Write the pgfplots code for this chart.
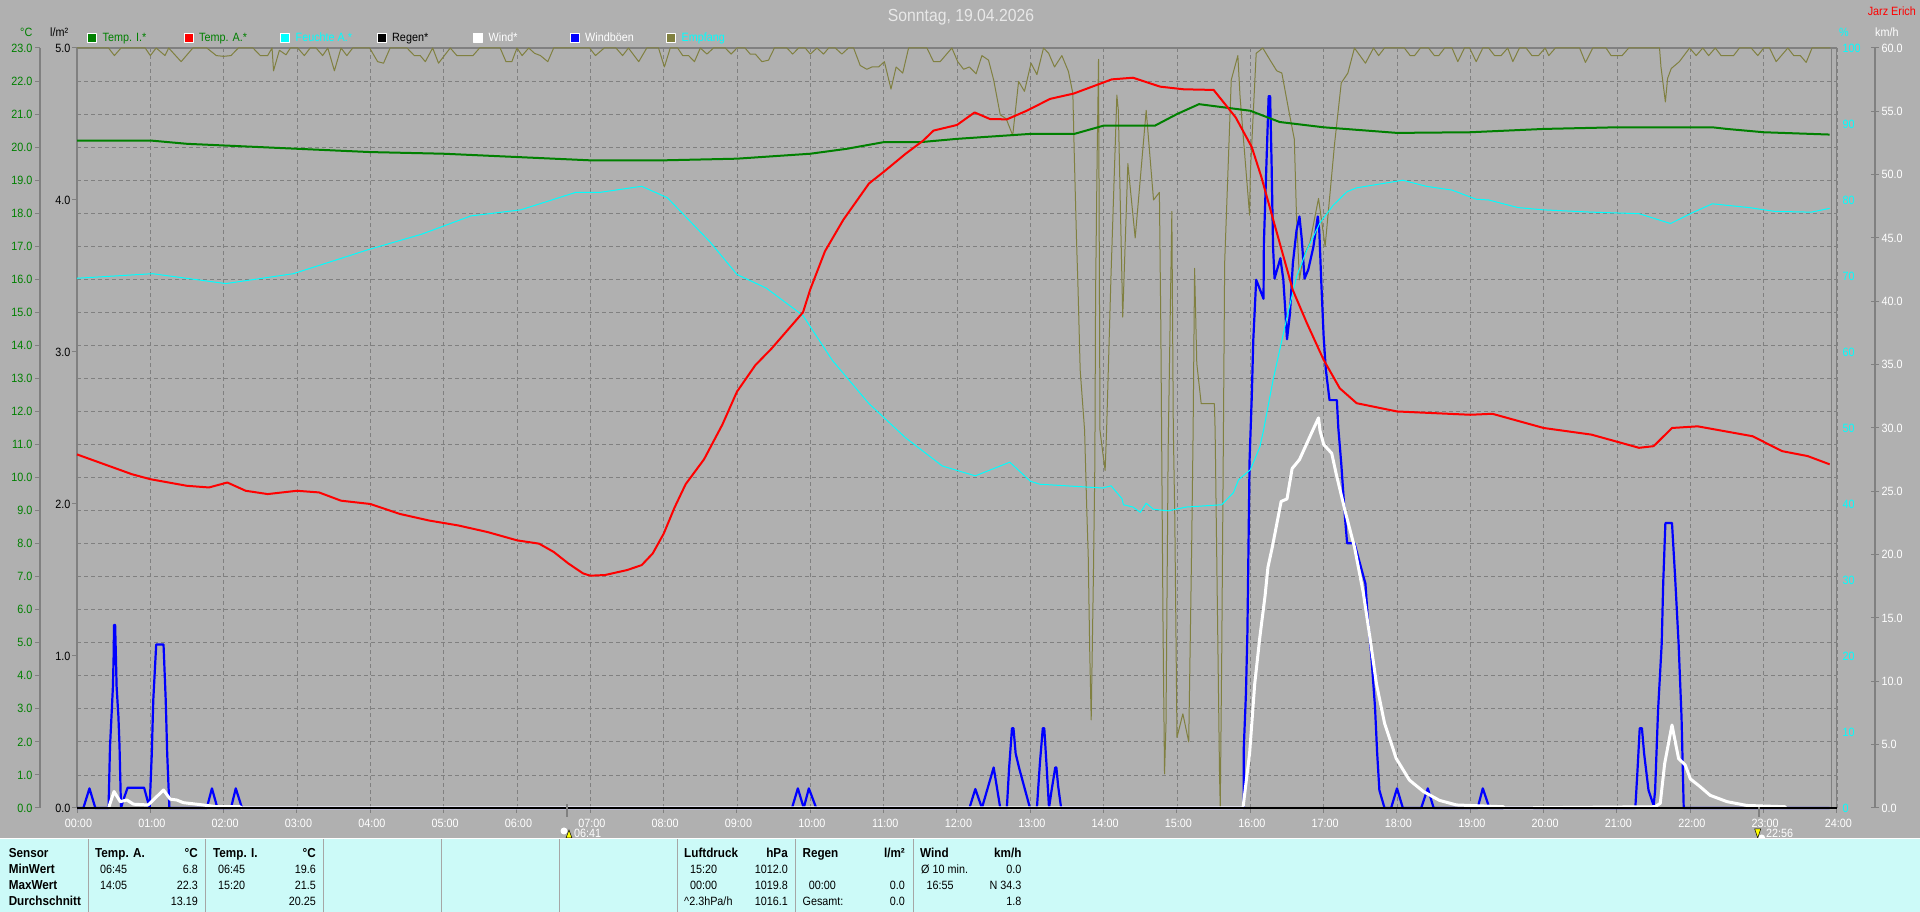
\documentclass[border=0pt]{standalone}
\usepackage{fontspec}
\setmainfont[FakeStretch=0.9]{Liberation Sans}
\usepackage{pgfplots}
\pgfplotsset{compat=1.18}

\definecolor{bggray}{HTML}{B0B0B0}
\definecolor{linegray}{HTML}{808080}
\definecolor{tgreen}{HTML}{008000}
\definecolor{tred}{RGB}{255,0,0}
\definecolor{tcyan}{RGB}{0,255,255}
\definecolor{tblue}{RGB}{0,0,255}
\definecolor{olive2}{HTML}{808040}
\definecolor{panel}{HTML}{CCFAF8}
\definecolor{titlec}{HTML}{E8E8E8}
\definecolor{tyellow}{RGB}{255,255,0}

\pgfplotsset{
  layer/.style={
    at={(77pt,104pt)}, anchor=south west,
    scale only axis, width=1760pt, height=760pt,
    xmin=0, xmax=24, clip=false,
    tick label style={font=\fontsize{12}{14}\selectfont},
    /pgf/number format/assume math mode=true,
    /pgf/number format/fixed,
    /pgf/number format/fixed zerofill,
    /pgf/number format/precision=1,
  },
  every axis plot/.append style={line join=round},
  sw/.style={legend image code/.code={
    \draw[draw=white,line width=1pt,fill=#1] (0pt,-4.5pt) rectangle (9pt,4.5pt);}},
}

% text helpers, x and y in pixels from the top left corner
\newcommand{\tl}[3]{\node[anchor=base west,inner sep=0pt,font=\fontsize{12}{14}\selectfont] at (#1,{912-#2}) {#3};}
\newcommand{\tr}[3]{\node[anchor=base east,inner sep=0pt,font=\fontsize{12}{14}\selectfont] at (#1,{912-#2}) {#3};}
\newcommand{\bh}{\fontsize{13}{14}\selectfont\bfseries}

\begin{document}
\begin{tikzpicture}[x=1pt,y=1pt]
\useasboundingbox (0,0) rectangle (1920,912);
\fill[bggray] (0,0) rectangle (1920,912);

% temperature scale, grid and hours
\begin{axis}[layer,
  axis x line*=bottom, axis y line*=left,
  ymin=0, ymax=23,
  xtick={0,...,24},
  xticklabels={00:00,01:00,02:00,03:00,04:00,05:00,06:00,07:00,08:00,09:00,10:00,11:00,12:00,13:00,14:00,15:00,16:00,17:00,18:00,19:00,20:00,21:00,22:00,23:00,24:00},
  ytick={0,...,23},
  grid=major,
  grid style={linegray,line width=0.9pt,dash pattern=on 4pt off 3pt},
  tickwidth=5pt, tick align=outside, tick style={linegray,line width=1pt},
  axis line style={-,linegray,line width=2.5pt},
  x axis line style={draw=none},
  xticklabel style={text=white,xshift=1.5pt,yshift=-3pt},
  yticklabel style={text=tgreen,xshift=-36pt},
  y tick style={xshift=-37pt},
]
\draw[linegray,line width=2pt] (rel axis cs:0,1) -- (rel axis cs:1,1);
\draw[linegray,line width=1pt] (rel axis cs:1,0) -- (rel axis cs:1,1);
\draw[linegray,line width=1pt] (axis cs:23.92,0) -- (axis cs:23.92,23);
\draw[linegray,line width=1.5pt] ([xshift=-37pt]rel axis cs:0,0) -- ([xshift=-37pt]rel axis cs:0,1);
\draw[linegray,line width=1.5pt] ([xshift=38pt]rel axis cs:1,0) -- ([xshift=38pt]rel axis cs:1,1);
\end{axis}

% Empfang, percent scale
\begin{axis}[layer, axis x line=none,
  axis y line*=right, ymin=0, ymax=100,
  ytick={0,10,...,100},
  y axis line style={draw=none}, major tick length=0pt,
  yticklabel style={text=tcyan,xshift=2pt,/pgf/number format/precision=0,/pgf/number format/fixed zerofill=false},
]
\addplot[olive2,line width=1pt,no marks] coordinates {
(0,100)(0.43,100)(0.51,99)(0.6,100)(0.93,100)(1,99)(1.08,100)(1.2,99)(1.25,100)(1.42,98.2)(1.58,100)(1.77,100)(1.9,99)(2,98.9)(2.1,99)(2.2,100)(2.4,100)(2.5,99)(2.6,99)(2.66,100)(2.68,97)(2.76,99.7)(2.85,99.1)(2.91,100)(3.01,100)(3.1,99)(3.18,100)(3.26,100)(3.35,99)(3.42,100)(3.51,97)(3.6,100)(3.68,99)(3.76,100)(3.99,100)(4.1,98.2)(4.18,98)(4.27,100)(4.5,100)(4.6,99)(4.68,99)(4.75,98.2)(4.85,100)(4.93,98)(5.09,100)(5.18,99)(5.27,99)(5.4,99)(5.49,100)(5.77,100)(5.85,98.2)(5.93,98.2)(6,100)(6.07,99)(6.16,100)(6.24,99.3)(6.32,99)(6.42,98.2)(6.5,100)(6.99,100)(7.07,99)(7.19,100)(7.35,100)(7.44,99)(7.52,100)(7.66,98.2)
(7.77,100)(7.93,100)(8.01,97.5)(8.09,100)(8.19,100)(8.26,99)(8.34,99)(8.42,98.2)(8.5,100)(8.59,99.2)(8.68,100)(8.84,100)(8.92,99.2)(9,100)(9.11,100)(9.18,99.2)(9.25,99.2)(9.34,98.2)(9.43,98.4)(9.51,100)(9.68,100)(9.76,99.2)(9.84,100)(9.93,100)(10,99.2)(10.09,100)(10.18,99.2)(10.25,100)(10.34,100)(10.43,99.2)(10.52,100)(10.59,100)(10.68,97.7)(10.77,97.2)(10.84,97.5)(10.93,97.5)(11.01,98.2)(11.1,94.6)(11.17,97.5)(11.26,96.7)(11.34,100)(11.59,100)(11.68,98.2)(11.77,98.2)(11.93,100)(12.01,98.2)(12.09,97.2)(12.17,97.5)(12.26,96.6)(12.34,99)(12.43,98.4)(12.5,95.8)(12.59,91.2)(12.67,90.7)(12.76,88.5)(12.84,95.6)(12.92,94.3)(13.01,98)(13.09,96.5)(13.18,100)(13.25,99.3)(13.33,97.5)(13.43,99)
(13.52,96.9)(13.58,94)(13.6,85.7)(13.63,74.7)(13.65,68.6)(13.68,57.6)(13.74,49.7)(13.77,39.2)(13.79,33)(13.81,20.7)(13.83,11.6)(13.86,30.4)(13.88,45.3)(13.89,67.7)(13.91,84.8)(13.93,98.5)(13.95,49.7)(13.99,46.6)(14.02,44.4)(14.04,49.7)(14.1,70)(14.18,93.8)(14.2,91.8)(14.26,64.6)(14.33,84.8)(14.43,75)(14.58,91.8)(14.68,80)(14.76,81)(14.78,62.9)(14.79,49.7)(14.8,36.5)(14.81,23.4)(14.83,4.5)(14.85,11)(14.88,47.5)(14.93,78.5)(14.95,49.7)(14.97,38.3)(15,9.3)(15.08,12.4)(15.16,8.7)(15.2,34.3)(15.22,49.7)(15.24,71)(15.27,58.5)(15.33,53.2)(15.51,53.2)(15.52,49.7)(15.58,4.5)(15.59,0)(15.61,20)(15.63,45.3)(15.65,71.7)(15.74,95.8)(15.83,99)(15.86,93.6)(15.99,78)(16,83.5)(16.08,99.3)(16.17,100)(16.27,98.4)(16.36,97)(16.43,96.7)(16.52,92)(16.6,88)(16.63,77.8)(16.67,69.5)(16.72,72.5)(16.81,74.3)(16.93,80.2)(17.02,73.9)(17.15,87.5)(17.24,95.4)(17.33,96.7)(17.42,100)
(17.57,98)(17.68,100)(17.75,99)(17.83,100)(18.1,100)(18.18,99)(18.24,99)(18.32,100)(18.43,100)(18.51,99)(18.57,99)(18.65,100)(18.75,100)(18.83,98.2)(18.92,100)(18.99,100)(19.08,98.2)(19.17,100)(19.25,100)(19.33,99)(19.42,99)(19.51,100)(19.58,98.2)(19.67,100)(19.76,100)(19.84,99)(19.93,99)(20.02,100)(20.07,99)(20.16,100)(20.49,100)(20.57,98.1)(20.67,100)(20.85,100)(20.92,99)(21.07,99)(21.16,100)(21.58,100)(21.6,97.5)(21.66,92.9)(21.69,96)(21.74,97.3)(21.85,98.2)(21.99,100)(22.08,99)(22.17,100)(22.25,99)(22.34,100)(22.42,99)(22.59,99)(22.67,100)(22.83,100)(22.92,99)(23,100)(23.08,100)(23.17,98.2)(23.33,100)(23.41,99)(23.5,99)(23.58,98.1)(23.66,100)(23.91,100)
};
\end{axis}

% Windboeen and Wind, km/h scale
\begin{axis}[layer, axis x line=none,
  axis y line*=right, ymin=0, ymax=60,
  ytick={0,5,...,60},
  y axis line style={draw=none},
  tickwidth=8pt, tick align=center, tick style={linegray,line width=1pt},
  y tick style={xshift=38pt},
  yticklabel style={text=white,xshift=37pt},
]
\addplot[tblue,line width=2.2pt,no marks] coordinates {
(0,0)(0.087,0)(0.17,1.55)(0.25,0)(0.43,0)(0.45,4.84)(0.47,7.2)(0.49,9.6)(0.5,12.1)(0.505,14.45)(0.52,14.45)(0.53,12.1)(0.54,9.6)(0.565,7.2)(0.58,4.84)(0.6,0)(0.63,0.6)(0.69,1.6)(0.915,1.6)(0.99,0)(1.02,4.3)(1.04,8.5)(1.08,12.9)(1.18,12.9)(1.21,8.5)(1.23,4.3)(1.26,0)(1.77,0)(1.84,1.55)(1.915,0)(2.1,0)(2.165,1.55)(2.25,0)
(9.75,0)(9.83,1.55)(9.91,0)(9.98,1.55)(10.08,0)
(12.17,0)(12.25,1.5)(12.34,0)(12.5,3.2)(12.59,0)(12.68,0)(12.71,3.1)(12.75,6.3)(12.77,6.3)(12.8,4.3)(12.85,3.1)(12.995,0)(13.09,0)(13.13,3.5)(13.17,6.3)(13.19,6.3)(13.22,3.5)(13.255,0)(13.29,1.4)(13.34,3.2)(13.355,3.2)(13.38,1.7)(13.42,0)
(15.91,0)(15.91,4.6)(15.94,9)(15.96,13.8)(15.97,18.3)(15.98,22.9)(15.99,27.5)(16.02,32.5)(16.04,36.9)(16.08,41.7)(16.18,40.2)(16.185,44.6)(16.22,50.9)(16.25,56.2)(16.27,56.2)(16.29,50.9)(16.31,44.3)(16.33,41.8)(16.41,43.4)(16.45,41.7)(16.48,39)(16.5,37)(16.54,39)(16.58,43)(16.63,45.6)(16.67,46.7)(16.7,45)(16.74,41.8)(16.79,42.5)(16.86,44.3)(16.92,46.7)(16.94,45.6)(16.97,41.2)(17,37.2)(17.03,34.6)(17.08,32.2)(17.18,32.2)(17.2,30)(17.24,27.2)(17.29,23)(17.32,20.9)(17.42,20.9)(17.57,17.7)(17.6,15.1)(17.65,12)(17.7,8)(17.73,4.3)(17.76,1.4)(17.83,0)(17.92,0)(18,1.55)(18.08,0)(18.33,0)(18.42,1.55)(18.5,0)(19.1,0)(19.17,1.55)(19.26,0)
(21.25,0)(21.28,3)(21.31,6.3)(21.34,6.3)(21.37,4.3)(21.43,1.4)(21.5,0.2)(21.52,1.4)(21.56,7.7)(21.61,13)(21.63,17.7)(21.66,22.5)(21.75,22.5)(21.79,18.5)(21.84,13)(21.88,7.2)(21.91,0)(23.9,0)
};
\addplot[white,line width=3pt,no marks] coordinates {
(0.43,0)(0.505,1.3)(0.59,0.5)(0.68,0.63)(0.77,0.3)(0.97,0.24)(1.18,1.42)(1.27,0.7)(1.36,0.63)(1.45,0.42)(1.72,0.24)(1.9,0.1)(2.22,0.1)(2.25,0)
(15.9,0)(15.99,4.3)(16.06,9.8)(16.13,13.5)(16.2,16.7)(16.24,19)(16.3,20.6)(16.42,24.2)(16.5,24.4)(16.57,26.8)(16.67,27.5)(16.85,29.8)(16.93,30.8)(16.95,29.8)(17,28.7)(17.11,28)(17.17,26.4)(17.29,23.5)(17.42,20.6)(17.54,17)(17.63,13.5)(17.72,9.8)(17.83,6.7)(17.99,3.9)(18.17,2.2)(18.36,1.3)(18.58,0.6)(18.81,0.24)(19.45,0.1)(19.46,0)
(21.52,0.1)(21.59,0.37)(21.65,3.5)(21.75,6.55)(21.84,3.9)(21.93,3.4)(22,2.3)(22.13,1.7)(22.27,1)(22.5,0.5)(22.77,0.2)(23.29,0.1)(23.3,0)
};
\end{axis}

% Regen, l/m2 scale
\begin{axis}[layer, axis x line=none,
  axis y line*=left, ymin=0, ymax=5,
  ytick={0,1,...,5},
  y axis line style={draw=none},
  tickwidth=5pt, tick align=outside, tick style={linegray,line width=1pt},
  yticklabel style={text=black,xshift=2pt},
]
\addplot[black,line width=2.4pt,no marks] coordinates {(0,0)(24,0)};
\end{axis}

% Feuchte A.
\begin{axis}[layer, hide axis, ymin=0, ymax=100]
\addplot[tcyan,line width=1pt,no marks] coordinates {
(0,69.7)(1.03,70.3)(2.03,69)(2.95,70.3)(3.95,73.4)(4.7,75.5)(5.37,77.9)(6.05,78.7)(6.8,81)(7.13,81)(7.7,81.8)(8.05,80.3)(8.63,74.5)(9,70.2)(9.4,68.4)(9.9,64.8)(10.3,58.9)(10.8,53.2)(11.3,48.7)(11.8,45)(12.25,43.7)(12.72,45.5)(13,43)(13.13,42.6)(13.99,42.1)(14.1,42.4)(14.25,40.7)(14.27,39.9)(14.4,39.6)(14.5,38.9)(14.58,40.1)(14.68,39.3)(14.88,39.1)(15.13,39.6)(15.61,39.9)(15.77,41.5)(15.84,43.2)(16,44.5)(16.13,47.5)(16.18,49.7)(16.31,56.3)(16.5,64.6)(16.63,69.9)(16.77,73.4)(16.95,77)(17.13,79.3)(17.32,81.1)(17.45,81.6)(18.08,82.6)(18.4,81.8)(18.75,81.3)(19.08,80.1)(19.25,80)(19.65,79)(20,78.7)(20.65,78.4)(21.3,78.2)(21.73,76.9)(22,78.2)(22.3,79.5)(22.8,79)(23.15,78.5)(23.65,78.4)(23.9,78.9)
};
\end{axis}

% Temperatures and the legend
\begin{axis}[layer, hide axis, ymin=0, ymax=23,
  legend columns=7,
  legend style={at={(rel axis cs:0,1)},anchor=south west,xshift=10pt,yshift=5pt,
    draw=none,fill=none,inner sep=0pt,
    font=\fontsize{12}{14}\selectfont,
    nodes={inner sep=0pt,anchor=west},
    /tikz/every odd column/.append style={column sep=5.5pt}},
]
\addlegendimage{sw=tgreen}\addlegendentry{\makebox[81pt][l]{\textcolor{tgreen}{Temp. I.*}}}
\addlegendimage{sw=tred}\addlegendentry{\makebox[81pt][l]{\textcolor{tgreen}{Temp. A.*}}}
\addlegendimage{sw=tcyan}\addlegendentry{\makebox[81pt][l]{\textcolor{tcyan}{Feuchte A.*}}}
\addlegendimage{sw=black}\addlegendentry{\makebox[81pt][l]{\textcolor{black}{Regen*}}}
\addlegendimage{sw=white}\addlegendentry{\makebox[81pt][l]{\textcolor{white}{Wind*}}}
\addlegendimage{sw=tblue}\addlegendentry{\makebox[81pt][l]{\textcolor{white}{Windböen}}}
\addlegendimage{sw=olive2}\addlegendentry{\makebox[81pt][l]{\textcolor{tcyan}{Empfang}}}
\addplot[tgreen,line width=2pt,no marks,forget plot] coordinates {
(0,20.2)(1,20.2)(1.5,20.1)(2,20.05)(3,19.95)(4,19.85)(5,19.8)(6,19.7)(6.5,19.65)(7,19.6)(8,19.6)(9,19.65)(10,19.8)(10.5,19.95)(11,20.15)(11.5,20.15)(12,20.25)(13,20.4)(13.6,20.4)(14,20.65)(14.7,20.65)(15,21)(15.3,21.3)(16,21.1)(16.4,20.76)(17,20.6)(18,20.43)(19,20.45)(20,20.55)(21,20.6)(22.3,20.6)(22.5,20.55)(23,20.45)(23.9,20.38)
};
\addplot[tred,line width=2pt,no marks,forget plot] coordinates {
(0,10.7)(0.25,10.5)(0.5,10.3)(0.75,10.1)(1,9.95)(1.5,9.75)(1.8,9.7)(2.05,9.85)(2.3,9.6)(2.6,9.5)(3,9.6)(3.3,9.55)(3.6,9.3)(4,9.2)(4.4,8.9)(4.8,8.7)(5.2,8.55)(5.6,8.35)(6,8.1)(6.3,8)(6.5,7.75)(6.7,7.4)(6.9,7.1)(7,7.03)(7.2,7.05)(7.5,7.2)(7.7,7.35)(7.85,7.7)(8,8.3)(8.15,9.1)(8.3,9.8)(8.55,10.55)(8.8,11.6)(9,12.6)(9.25,13.4)(9.47,13.9)(9.9,15)(10,15.7)(10.2,16.85)(10.45,17.8)(10.8,18.9)(11,19.25)(11.3,19.8)(11.54,20.2)(11.68,20.5)(12,20.67)(12.24,21.05)(12.45,20.85)(12.68,20.84)(12.95,21.1)(13.27,21.46)(13.59,21.62)(14.11,22.05)(14.4,22.1)(14.77,21.83)(15.09,21.75)(15.5,21.73)(15.8,20.9)(16.02,20)(16.15,19.1)(16.3,17.9)(16.58,15.67)(16.77,14.68)(17,13.56)(17.22,12.7)(17.45,12.25)(18,12)(19,11.9)(19.3,11.93)(20,11.5)(20.65,11.3)(21.3,10.9)(21.5,10.95)(21.75,11.5)(22.1,11.55)(22.85,11.25)(23.25,10.8)(23.6,10.65)(23.9,10.4)
};
\end{axis}

% header texts
\node[text=titlec,font=\fontsize{17.5}{19}\selectfont] at (961,{912-17}) {Sonntag, 19.04.2026};
\tr{1916}{16}{\textcolor{tred}{Jarz Erich}}
\tl{20}{37}{\textcolor{tgreen}{°C}}
\tl{50}{37}{\textcolor{black}{l/m²}}
\tl{1839}{37}{\textcolor{tcyan}{\%}}
\tl{1875}{37}{\textcolor{white}{km/h}}

% sunrise and sunset marks
\fill[linegray] (565.7,{912-817}) rectangle (568,{912-804});
\fill[linegray] (1758,{912-817}) rectangle (1760.3,{912-807});
\fill[white] (564,{912-831}) circle (3.5);
\fill[tyellow,draw=black,line width=0.5pt] (569,{912-830}) -- (566,{912-838}) -- (572,{912-838}) -- cycle;
\tl{574}{838}{\textcolor{white}{06:41}}
\fill[white] (1761.7,{912-838}) circle (3.5);
\fill[tyellow,draw=black,line width=0.5pt] (1757.7,{912-838}) -- (1754.7,{912-829}) -- (1760.7,{912-829}) -- cycle;
\tl{1766}{838}{\textcolor{white}{22:56}}

% table below the chart
\fill[panel] (0,0) rectangle (1920,{912-839});
\draw[white,line width=1pt] (0,{912-839}) -- (1920,{912-839});
\foreach \x in {88,205,323,441,559,677.5,795,913.5}
  \draw[black!35,line width=1pt] (\x,0) -- (\x,{912-839});

\tl{8.6}{858}{\bh Sensor}
\tl{8.6}{874}{\bh MinWert}
\tl{8.6}{890}{\bh MaxWert}
\tl{8.6}{906}{\bh Durchschnitt}

\tl{95}{858}{\bh Temp. A.}\tr{198}{858}{\bh °C}
\tl{100}{874}{06:45}\tr{198}{874}{6.8}
\tl{100}{890}{14:05}\tr{198}{890}{22.3}
\tr{198}{906}{13.19}

\tl{213}{858}{\bh Temp. I.}\tr{316}{858}{\bh °C}
\tl{218}{874}{06:45}\tr{316}{874}{19.6}
\tl{218}{890}{15:20}\tr{316}{890}{21.5}
\tr{316}{906}{20.25}

\tl{684}{858}{\bh Luftdruck}\tr{788}{858}{\bh hPa}
\tl{690}{874}{15:20}\tr{788}{874}{1012.0}
\tl{690}{890}{00:00}\tr{788}{890}{1019.8}
\tl{684}{906}{\textasciicircum 2.3hPa/h}\tr{788}{906}{1016.1}

\tl{802.4}{858}{\bh Regen}\tr{905}{858}{\bh l/m²}
\tl{808.6}{890}{00:00}\tr{905}{890}{0.0}
\tl{802.4}{906}{Gesamt:}\tr{905}{906}{0.0}

\tl{920}{858}{\bh Wind}\tr{1021.6}{858}{\bh km/h}
\tl{921}{874}{Ø 10 min.}\tr{1021.6}{874}{0.0}
\tl{926.5}{890}{16:55}\tr{1021.6}{890}{N 34.3}
\tr{1021.6}{906}{1.8}
\end{tikzpicture}
\end{document}
